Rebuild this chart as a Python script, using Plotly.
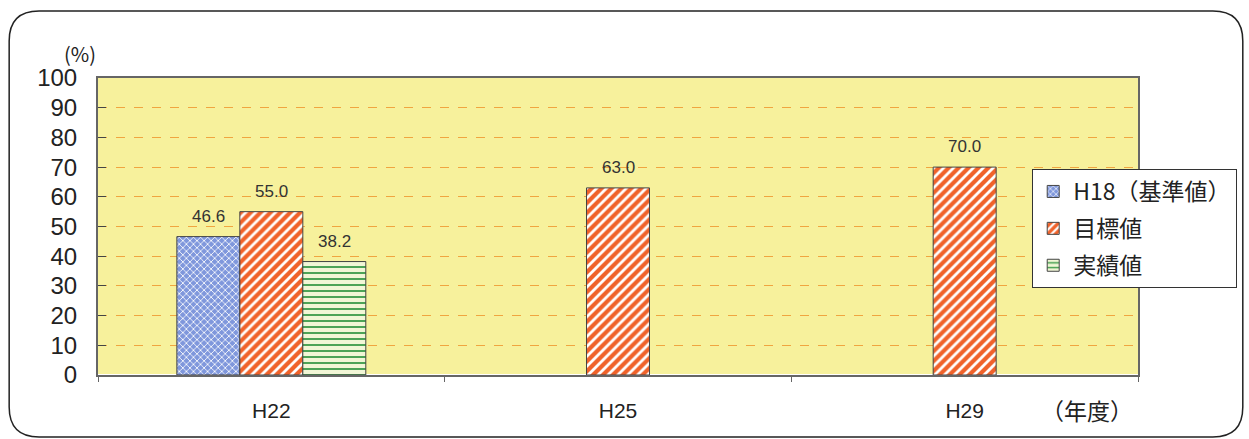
import plotly.graph_objects as go

categories = ["H22", "H25", "H29"]
base_vals = [46.6, None, None]
target_vals = [55.0, 63.0, 70.0]
actual_vals = [38.2, None, None]
series_names = ["H18（基準値）", "目標値", "実績値"]

W, H = 1249, 439
L, R, T, B = 98, 109, 78, 64
pw, ph = W - L - R, H - T - B
BARGAP = 0.455
bw = (1 - BARGAP) / 3  # width of one bar in category units

def px2paper(x, y):
    return (x - L) / pw, 1 - (y - T) / ph

fig = go.Figure()
fig.add_trace(go.Bar(
    x=categories, y=base_vals, name=series_names[0], legendgroup="a",
    marker=dict(color="#7f97dc", line=dict(color="#444", width=1),
                pattern=dict(shape="x", fgcolor="white", fgopacity=1, size=5, solidity=0.3))))
fig.add_trace(go.Bar(
    x=categories, y=target_vals, name=series_names[1], legendgroup="b",
    marker=dict(color="white", line=dict(color="#444", width=1),
                pattern=dict(shape="/", fgcolor="#f0622a", bgcolor="white", fgopacity=1,
                             size=7, solidity=0.6))))
fig.add_trace(go.Bar(
    x=categories, y=actual_vals, name=series_names[2], legendgroup="c",
    marker=dict(color="#f1f6d6", line=dict(color="#444", width=1),
                pattern=dict(shape="-", fgcolor="#3a9a48", bgcolor="#f1f6d6", fgopacity=1,
                             size=6, solidity=0.3))))

# value labels above bars
for k, vals in zip([-1, 0, 1], [base_vals, target_vals, actual_vals]):
    for i, v in enumerate(vals):
        if v is None:
            continue
        fig.add_annotation(x=i + k * bw, y=v, xref="x", yref="y", text=f"{v:.1f}",
                           showarrow=False, yanchor="bottom", xanchor="center", yshift=9,
                           font=dict(size=17, color="#333", family="Liberation Sans"))

# rounded outer frame
x0, y0 = px2paper(9, 11)
x1, y1 = px2paper(1245, 437)
rx = 30 / pw
ry = 30 / ph
path = (f"M {x0+rx},{y0} L {x1-rx},{y0} Q {x1},{y0} {x1},{y0-ry} "
        f"L {x1},{y1+ry} Q {x1},{y1} {x1-rx},{y1} L {x0+rx},{y1} "
        f"Q {x0},{y1} {x0},{y1+ry} L {x0},{y0-ry} Q {x0},{y0} {x0+rx},{y0} Z")
fig.add_shape(type="path", path=path, xref="paper", yref="paper",
              line=dict(color="#222", width=1.5), layer="below")

fig.add_annotation(text="(%)", xref="paper", yref="paper", x=px2paper(80, 0)[0],
                   y=px2paper(0, 54)[1], showarrow=False, xanchor="center", yanchor="middle",
                   font=dict(size=20, color="#222", family="Noto Sans CJK JP"))
fig.add_annotation(text="（年度）", xref="paper", yref="paper", x=px2paper(1089, 0)[0],
                   y=px2paper(0, 410)[1], showarrow=False, xanchor="center", yanchor="middle",
                   font=dict(size=23, color="#222", family="Noto Sans CJK JP"))

fig.update_layout(
    width=W, height=H,
    margin=dict(l=L, r=R, t=T, b=B),
    paper_bgcolor="white",
    plot_bgcolor="#f7f19c",
    barmode="group", bargap=BARGAP, bargroupgap=0,
    showlegend=True,
    legend=dict(x=px2paper(1034, 0)[0], y=px2paper(0, 169)[1], xanchor="left", yanchor="top",
                bgcolor="white", bordercolor="#333", borderwidth=1,
                font=dict(size=23, color="#222", family="Noto Sans CJK JP"),
                tracegroupgap=4, itemwidth=30),
    xaxis=dict(showgrid=False, showline=True, linecolor="#666", linewidth=2, mirror=True,
               tickson="boundaries", ticks="outside", ticklen=5, tickcolor="#666",
               ticklabelstandoff=16,
               tickfont=dict(size=21, color="#222", family="Liberation Sans")),
    yaxis=dict(range=[0, 100], dtick=10, showline=True, linecolor="#666", linewidth=2, mirror=True,
               ticks="inside", ticklen=8, tickcolor="#444", ticklabelstandoff=14,
               gridcolor="#f0a540", griddash="dash", gridwidth=1,
               tickfont=dict(size=24, color="#222", family="Liberation Sans")),
)

fig.write_html("out.html", config={"displayModeBar": False},
               post_script="document.body.style.margin='0';")
